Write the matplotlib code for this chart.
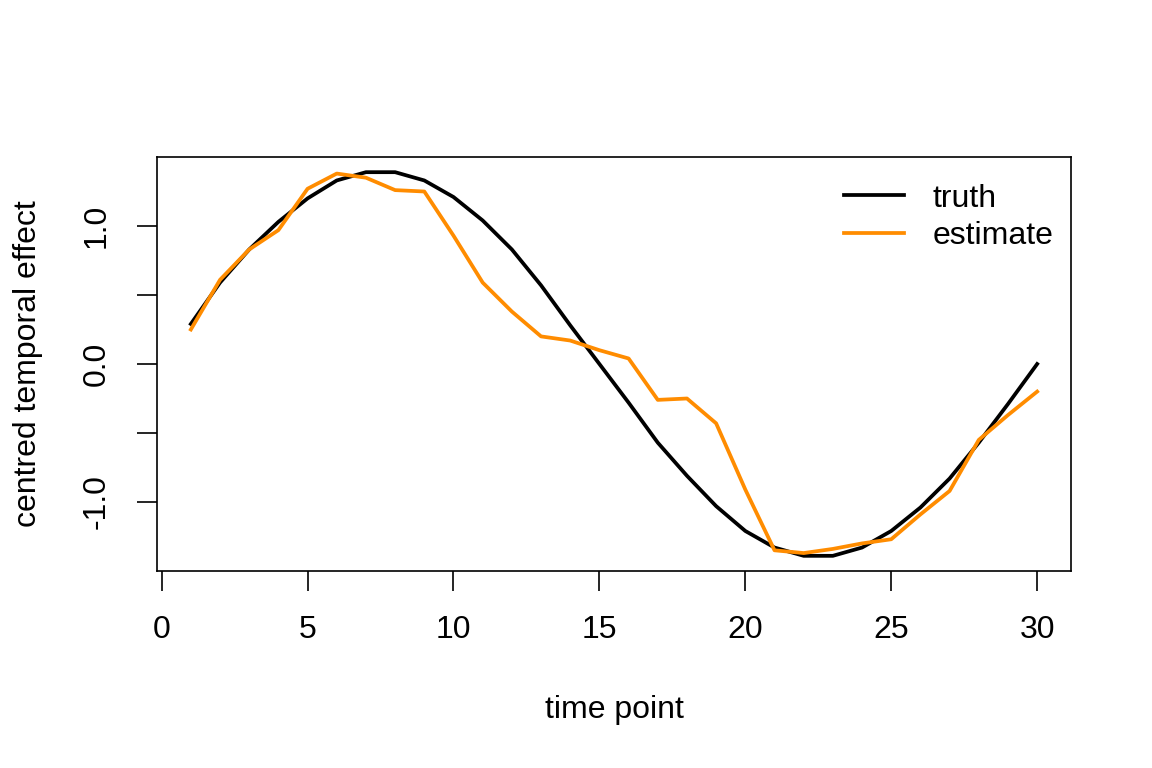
import matplotlib
matplotlib.use("Agg")
import matplotlib.pyplot as plt

time_point = list(range(1, 31))
truth = [0.29, 0.59, 0.83, 1.03, 1.20, 1.33, 1.39, 1.39, 1.33, 1.21,
         1.04, 0.83, 0.57, 0.28, 0.00, -0.28, -0.57, -0.81, -1.03, -1.21,
         -1.33, -1.39, -1.39, -1.33, -1.21, -1.04, -0.83, -0.57, -0.29, 0.00]
estimate = [0.25, 0.61, 0.83, 0.97, 1.27, 1.38, 1.35, 1.26, 1.25, 0.93,
            0.59, 0.38, 0.20, 0.17, 0.10, 0.04, -0.26, -0.25, -0.43, -0.91,
            -1.35, -1.37, -1.34, -1.30, -1.27, -1.09, -0.92, -0.55, -0.37, -0.20]
xticks = [0, 5, 10, 15, 20, 25, 30]
yticks = [-1.0, -0.5, 0.0, 0.5, 1.0]
ytick_labels = ["-1.0", "", "0.0", "", "1.0"]

plt.rcParams['font.family'] = ['Liberation Sans', 'DejaVu Sans']
fs = 23

fig = plt.figure(figsize=(11.52, 7.68), dpi=100)
ax = fig.add_axes([157/1152, 1 - 571/768, (1071-157)/1152, (571-157)/768])

ax.plot(time_point, truth, color='black', lw=2.7, label='truth')
ax.plot(time_point, estimate, color='#FF8C00', lw=2.7, label='estimate')

ax.set_xlim(-0.16, 31.16)
ax.set_ylim(-1.5, 1.5)
ax.set_xticks(xticks)
ax.set_xticklabels([str(v) for v in xticks])
ax.set_yticks(yticks)
ax.set_yticklabels(ytick_labels, rotation=90, va='center')

for s in ax.spines.values():
    s.set_linewidth(1.2)
    s.set_color('black')
ax.tick_params(axis='both', direction='out', length=14.5, width=1.2,
               labelsize=fs, colors='black')
ax.tick_params(axis='x', pad=17)
ax.tick_params(axis='y', pad=18)

ax.set_xlabel('time point', fontsize=fs, labelpad=36)
ax.set_ylabel('centred temporal effect', fontsize=fs, labelpad=28)

ax.legend(loc='upper right', frameon=False, fontsize=fs,
          handlelength=1.85, handletextpad=0.9, labelspacing=0.25,
          bbox_to_anchor=(1.005, 0.99), borderaxespad=0.3)

fig.savefig('out.png', dpi=100)
